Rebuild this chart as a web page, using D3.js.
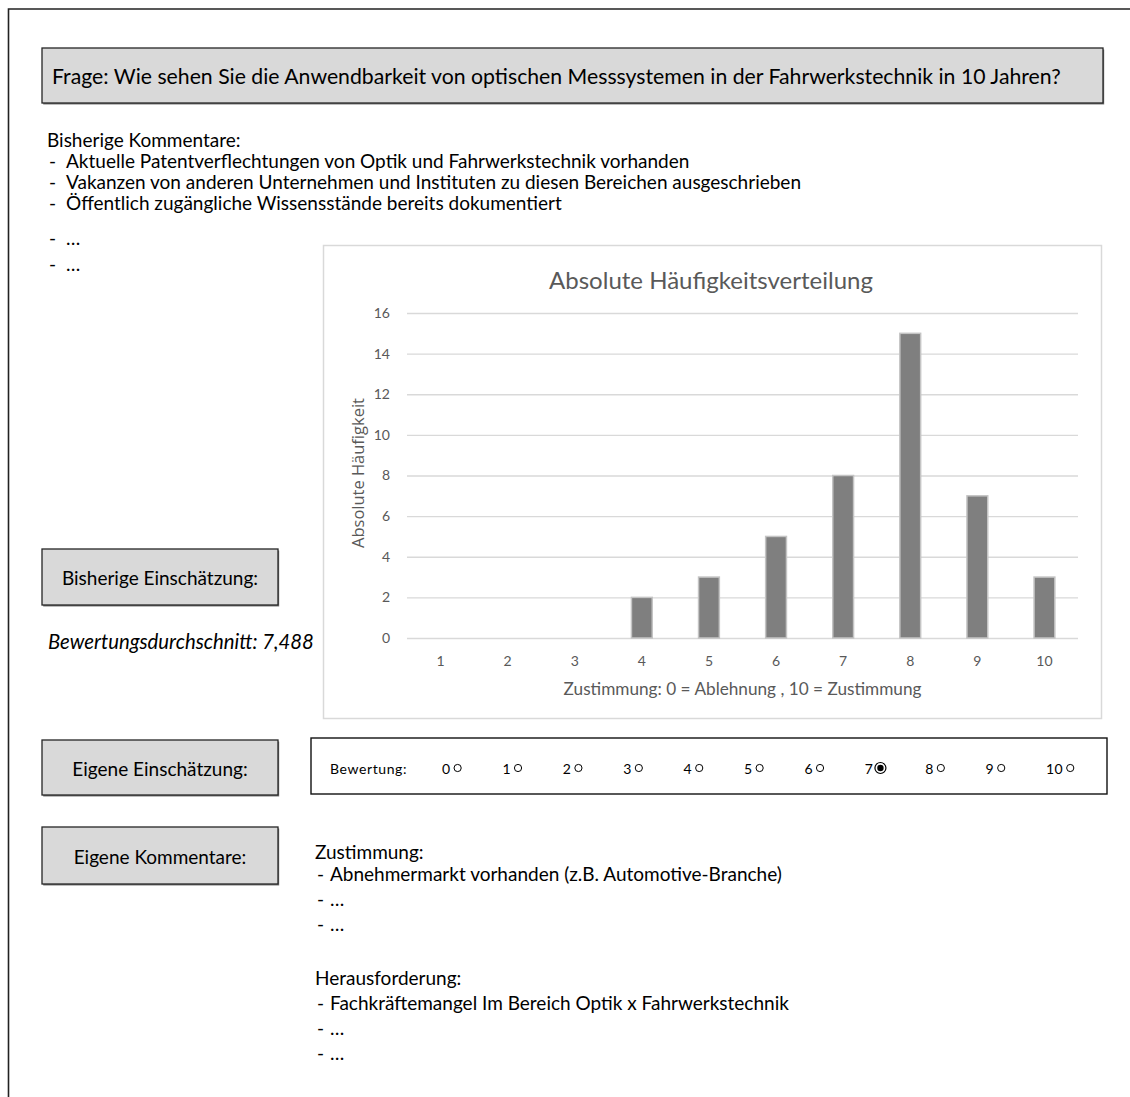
<!DOCTYPE html>
<html>
<head>
<meta charset="utf-8">
<script src="https://cdn.jsdelivr.net/npm/d3@7"></script>
<style>
  body { margin: 0; background: #fff; }
  svg { display: block; }
</style>
</head>
<body>
<svg id="page" width="1130" height="1097"></svg>
<script>
// ---- Survey data -------------------------------------------------------
const categories = ["1", "2", "3", "4", "5", "6", "7", "8", "9", "10"];
const counts = [0, 0, 0, 2, 3, 5, 8, 15, 7, 3];
const yTicks = [0, 2, 4, 6, 8, 10, 12, 14, 16];
const ratingOptions = [0, 1, 2, 3, 4, 5, 6, 7, 8, 9, 10];
const selectedRating = 7;

const questionText = "Frage: Wie sehen Sie die Anwendbarkeit von optischen Messsystemen in der Fahrwerkstechnik in 10 Jahren?";
const priorHeading = "Bisherige Kommentare:";
const priorComments = [
  "Aktuelle Patentverflechtungen von Optik und Fahrwerkstechnik vorhanden",
  "Vakanzen von anderen Unternehmen und Instituten zu diesen Bereichen ausgeschrieben",
  "Öffentlich zugängliche Wissensstände bereits dokumentiert",
  "…",
  "…"
];
const agreeHeading = "Zustimmung:";
const agreeComments = ["Abnehmermarkt vorhanden (z.B. Automotive-Branche)", "…", "…"];
const challengeHeading = "Herausforderung:";
const challengeComments = ["Fachkräftemangel Im Bereich Optik x Fahrwerkstechnik", "…", "…"];

const chartTitle = "Absolute Häufigkeitsverteilung";
const xTitle = "Zustimmung: 0 = Ablehnung , 10 = Zustimmung";
const yTitle = "Absolute Häufigkeit";

// weighted mean of the ratings, German decimal comma
const average = d3.sum(counts, (c, i) => c * +categories[i]) / d3.sum(counts);
const averageLabel = "Bewertungsdurchschnitt: " + average.toFixed(3).replace(".", ",");

// ---- Helpers -----------------------------------------------------------
const FONT = "Lato, 'Open Sans', sans-serif";
const svg = d3.select("#page");

// scale a text's font size so that it spans the given width
function fit(sel, width) {
  sel.each(function () {
    const len = this.getComputedTextLength();
    const fs = parseFloat(this.style.fontSize);
    if (len > 0) this.style.fontSize = (fs * width / len) + "px";
  });
  return sel;
}

// one common font size for a set of texts, from their total target width
const bodyTexts = [];
function fitGroup(items) {
  const measured = d3.sum(items, d => d.el.node().getComputedTextLength());
  const target = d3.sum(items, d => d.w);
  const fs = parseFloat(items[0].el.node().style.fontSize) * target / measured;
  items.forEach(d => d.el.style("font-size", fs + "px"));
  return fs;
}

function label(g, x, y, text, opts = {}) {
  return g.append("text")
    .attr("x", x).attr("y", y)
    .attr("dominant-baseline", "central")
    .attr("text-anchor", opts.anchor || "start")
    .style("font-family", opts.font || FONT)
    .style("font-size", (opts.size || 16) + "px")
    .style("font-style", opts.italic ? "italic" : "normal")
    .attr("fill", opts.fill || "#000")
    .text(text);
}

function body(x, y, text, w, opts = {}) {
  const el = label(svg, x, y, text, opts);
  if (w) bodyTexts.push({ el, w });
  else bodyTexts.push({ el, w: 0, free: true });
  return el;
}

function grayBox(x, y, w, h) {
  svg.append("rect").attr("x", x + 1.2).attr("y", y + 1.5).attr("width", w).attr("height", h)
    .attr("fill", "#7a7a7a");
  svg.append("rect").attr("x", x).attr("y", y).attr("width", w).attr("height", h)
    .attr("fill", "#d9d9d9").attr("stroke", "#262626").attr("stroke-width", 1.3);
}

function bulletList(x0, x1, rows, items, widths) {
  items.forEach((t, i) => {
    body(x0, rows[i], "-");
    body(x1, rows[i], t, widths[i]);
  });
}

// ---- Page frame --------------------------------------------------------
svg.append("path").attr("d", "M8.5,1097V9H1130")
  .attr("fill", "none").attr("stroke", "#222").attr("stroke-width", 1.6);

// ---- Question banner ---------------------------------------------------
grayBox(42, 48, 1061, 55);
fit(label(svg, 52, 76, questionText, { size: 17 }), 1009);

// ---- Previous comments -------------------------------------------------
body(47, 139, priorHeading, 162);
bulletList(49, 66, [160, 181, 202, 237, 263], priorComments, [624, 760, 508]);

// ---- Frequency chart ---------------------------------------------------
const chart = svg.append("g");
chart.append("rect").attr("x", 323.5).attr("y", 245.5).attr("width", 778).attr("height", 473)
  .attr("fill", "#fff").attr("stroke", "#d9d9d9").attr("stroke-width", 1.5);

const x = d3.scaleBand().domain(categories).range([407, 1078]);
const y = d3.scaleLinear().domain([0, 16]).range([638, 313]);

const yAxis = chart.append("g").attr("transform", `translate(${x.range()[0]},0)`)
  .call(d3.axisLeft(y).tickValues(yTicks).tickSize(-(x.range()[1] - x.range()[0])).tickPadding(17));
yAxis.select(".domain").remove();
yAxis.selectAll("line").attr("stroke", "#d9d9d9").attr("stroke-width", 1.3);
yAxis.selectAll("text").attr("fill", "#595959").style("font-family", FONT).style("font-size", "14px");

const xAxis = chart.append("g").attr("transform", `translate(0,${y(0)})`)
  .call(d3.axisBottom(x).tickSize(0).tickPadding(18));
xAxis.select(".domain").remove();
xAxis.selectAll("text").attr("fill", "#595959").style("font-family", FONT).style("font-size", "14px");

const barW = x.bandwidth() * 0.31;
chart.selectAll("rect.bar")
  .data(categories.map((c, i) => ({ c, v: counts[i] })).filter(d => d.v > 0))
  .join("rect").attr("class", "bar")
  .attr("x", d => x(d.c) + (x.bandwidth() - barW) / 2)
  .attr("y", d => y(d.v))
  .attr("width", barW)
  .attr("height", d => y(0) - y(d.v))
  .attr("fill", "#7f7f7f").attr("stroke", "#c4c4c4").attr("stroke-width", 1.5);

fit(label(chart, 711, 279, chartTitle, { size: 20, anchor: "middle", fill: "#595959" }), 324);
fit(label(chart, (x.range()[0] + x.range()[1]) / 2, 688, xTitle, { size: 15, anchor: "middle", fill: "#595959" }), 358);
fit(label(chart, 0, 0, yTitle, { size: 13, anchor: "middle", fill: "#595959", font: "'Open Sans', sans-serif" })
  .attr("transform", "translate(357,473) rotate(-90)"), 150);

// ---- Previous assessment -----------------------------------------------
grayBox(42, 549, 236, 56);
body(160, 577, "Bisherige Einschätzung:", 197, { anchor: "middle" });
fit(label(svg, 48, 641, averageLabel, { size: 16, italic: true }), 266);

// ---- Own assessment ----------------------------------------------------
grayBox(42, 740, 236, 55);
body(160, 768, "Eigene Einschätzung:", 178, { anchor: "middle" });

svg.append("rect").attr("x", 311).attr("y", 738).attr("width", 796).attr("height", 56)
  .attr("fill", "#fff").attr("stroke", "#111").attr("stroke-width", 1.4);
label(svg, 330, 768, "Bewertung:", { size: 14 }).style("letter-spacing", "0.6px");

const rx = d3.scalePoint().domain(ratingOptions).range([442, 1046]);
ratingOptions.forEach(r => {
  const t = label(svg, rx(r), 768, String(r), { size: 14 }).style("letter-spacing", "0.5px");
  const cx = rx(r) + t.node().getComputedTextLength() + 7;
  if (r === selectedRating) {
    svg.append("circle").attr("cx", cx).attr("cy", 768).attr("r", 5.5)
      .attr("fill", "#fff").attr("stroke", "#000").attr("stroke-width", 1.2);
    svg.append("circle").attr("cx", cx).attr("cy", 768).attr("r", 3.2).attr("fill", "#000");
  } else {
    svg.append("circle").attr("cx", cx).attr("cy", 768).attr("r", 3.6)
      .attr("fill", "none").attr("stroke", "#000").attr("stroke-width", 1);
  }
});

// ---- Own comments ------------------------------------------------------
grayBox(42, 827, 236, 57);
body(160, 856, "Eigene Kommentare:", 174, { anchor: "middle" });

body(315, 851, agreeHeading, 85);
bulletList(317, 330, [873, 898, 923], agreeComments, [477]);

body(315, 977, challengeHeading, 119);
bulletList(317, 330, [1002, 1027, 1052], challengeComments, [477]);

// all running text shares one size
const bodySize = fitGroup(bodyTexts.filter(d => !d.free));
bodyTexts.filter(d => d.free).forEach(d => d.el.style("font-size", bodySize + "px"));
</script>
</body>
</html>
